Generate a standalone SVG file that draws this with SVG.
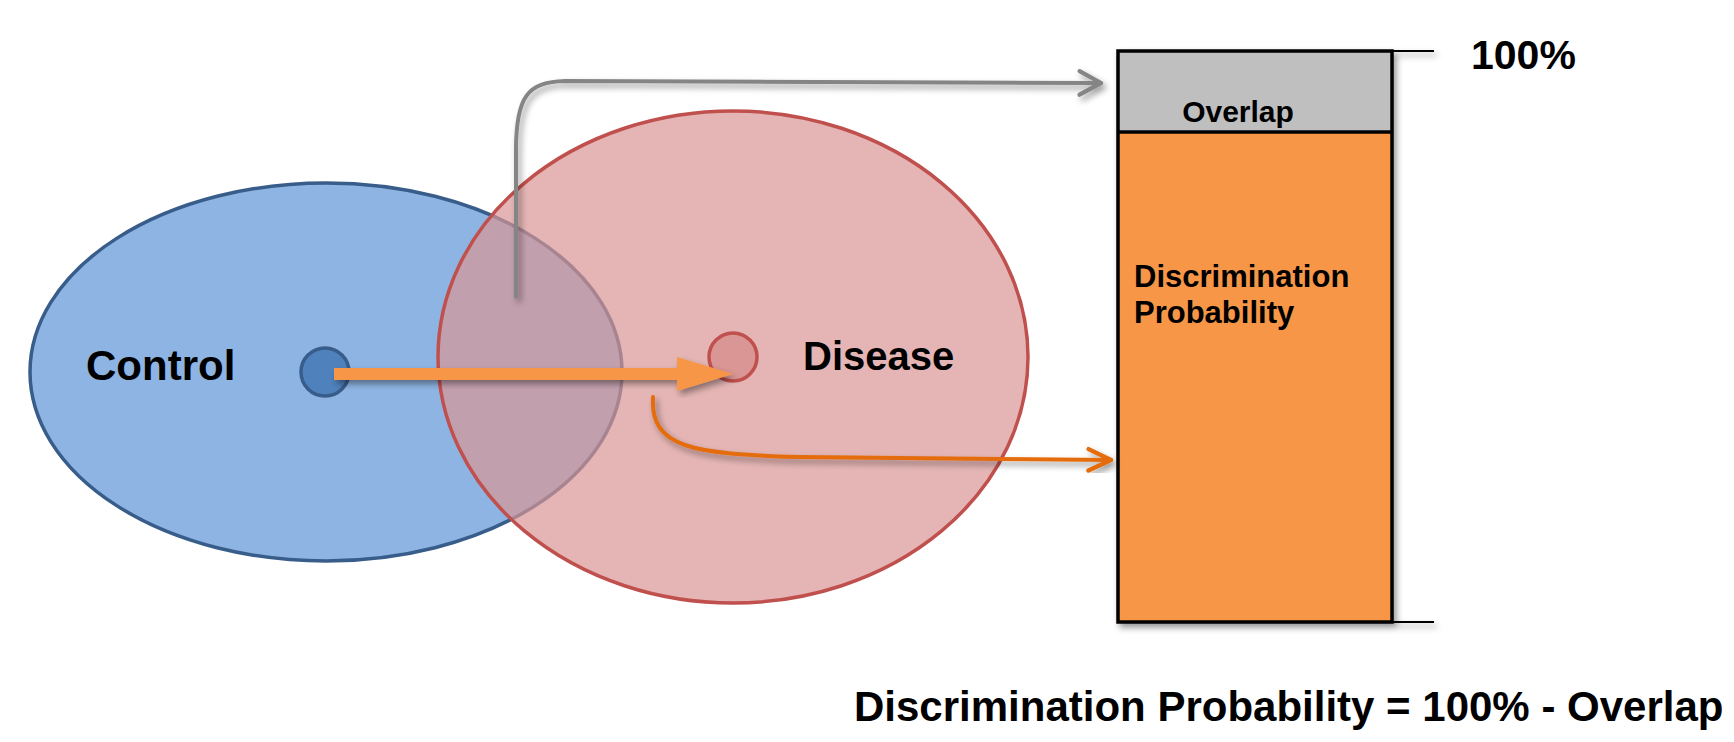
<svg xmlns="http://www.w3.org/2000/svg" width="1734" height="742" viewBox="0 0 1734 742">
  <defs>
    <style>
      .lbl { font-family: "Liberation Sans", Arial, sans-serif; font-weight: bold; fill: #000; }
      .conn { fill: none; stroke-width: 4; stroke-linecap: round; stroke-linejoin: round; }
    </style>
    <filter id="shadow" x="-10%" y="-10%" width="130%" height="130%">
      <feDropShadow dx="3" dy="4" stdDeviation="3" flood-color="#000" flood-opacity="0.4"/>
    </filter>
    <marker id="arrGray" markerUnits="userSpaceOnUse" markerWidth="30" markerHeight="30" viewBox="-24 -14 28 28" refX="0" refY="0" orient="auto">
      <path d="M-20,-11 L0,0 L-20,11" fill="none" stroke="#858585" stroke-width="4" stroke-linecap="round" stroke-linejoin="round"/>
    </marker>
    <marker id="arrOrange" markerUnits="userSpaceOnUse" markerWidth="30" markerHeight="30" viewBox="-24 -14 28 28" refX="0" refY="0" orient="auto">
      <path d="M-21,-10 L0,0 L-21,10" fill="none" stroke="#E46C0A" stroke-width="4" stroke-linecap="round" stroke-linejoin="round"/>
    </marker>
  </defs>

  <g id="control">
    <ellipse cx="326" cy="372" rx="296" ry="189" fill="#8EB4E3" stroke="#385D8A" stroke-width="3.5"/>
    <text class="lbl" x="86" y="380" font-size="42">Control</text>
  </g>

  <g id="disease">
    <ellipse cx="733" cy="357" rx="295" ry="246" fill="#D99694" fill-opacity="0.7" stroke="#C0504D" stroke-width="3.5"/>
    <text class="lbl" x="803" y="370" font-size="40">Disease</text>
  </g>

  <g id="control-mean">
    <circle cx="325" cy="372" r="24" fill="#4F81BD" stroke="#385D8A" stroke-width="3.5"/>
  </g>
  <g id="disease-mean">
    <circle cx="733" cy="357" r="24" fill="#D99694" stroke="#C0504D" stroke-width="3.5"/>
  </g>

  <g id="bar" filter="url(#shadow)">
    <rect x="1118" y="51" width="274" height="81" fill="#BFBFBF"/>
    <rect x="1118" y="132" width="274" height="490" fill="#F79646"/>
    <rect x="1118" y="51" width="274" height="571" fill="none" stroke="#000" stroke-width="3.5"/>
    <line x1="1118" y1="132" x2="1392" y2="132" stroke="#000" stroke-width="3.5"/>
    <line x1="1392" y1="51" x2="1434" y2="51" stroke="#000" stroke-width="2"/>
    <line x1="1392" y1="622" x2="1434" y2="622" stroke="#000" stroke-width="2"/>
  </g>
  <g id="bar-labels">
    <text class="lbl" x="1238" y="122" font-size="30" text-anchor="middle">Overlap</text>
    <text class="lbl" x="1134" y="287" font-size="31">Discrimination</text>
    <text class="lbl" x="1134" y="323" font-size="31">Probability</text>
    <text class="lbl" x="1471" y="69" font-size="41">100%</text>
  </g>

  <g id="connectors">
    <path class="conn" d="M516,297 L516,150 C516,96 528,82 565,81 L1101,83" stroke="#858585" marker-end="url(#arrGray)" filter="url(#shadow)"/>
    <path d="M334,368 L677,368 L677,357 L733,374 L677,391 L677,380 L334,380 Z" fill="#F79646" filter="url(#shadow)"/>
    <path class="conn" d="M653,397 C650,448 692,454 800,457 L1111,460" stroke="#E46C0A" marker-end="url(#arrOrange)" filter="url(#shadow)"/>
  </g>

  <g id="formula">
    <text class="lbl" x="854" y="721" font-size="42">Discrimination Probability = 100% - Overlap</text>
  </g>
</svg>
